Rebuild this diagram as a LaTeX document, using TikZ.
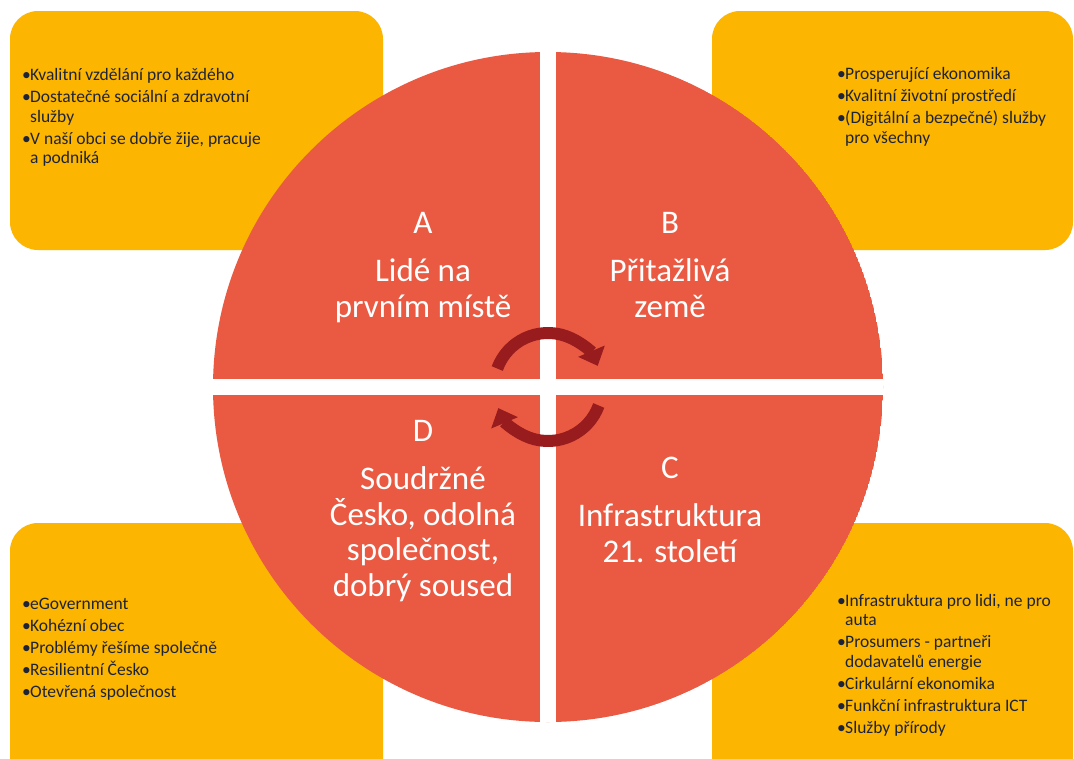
\documentclass[tikz,border=0pt]{standalone}
\usepackage{fontspec}
\setmainfont{Carlito}
\usepackage{tikz}
\usetikzlibrary{arrows.meta}

\definecolor{quadred}{HTML}{EA5A42}
\definecolor{boxgold}{HTML}{FCB501}
\definecolor{cyclered}{HTML}{981B1E}
\definecolor{notetext}{HTML}{1E2438}
\newcommand{\bul}{\makebox[8pt][l]{\textbullet}}
\newcommand{\cont}{\hspace*{8pt}}

\begin{document}
\begin{tikzpicture}[x=1pt, y=-1pt,
    note/.style={anchor=base west, align=left, inner sep=0pt, text=notetext,
      font=\fontsize{17.5}{19.5}\selectfont},
    pillar/.style={anchor=base, align=center, inner sep=0pt, text=white,
      font=\fontsize{33}{35.5}\selectfont}]
    \clip (0,0) rectangle (1074,758);
    \fill[white] (0,0) rectangle (1074,758);

    % Draw corner boxes
    \foreach \x/\y/\w/\h in {10/11/373/239, 712/11/361/239, 10/523/373/270, 712/523/361/270} {
      \fill[boxgold, rounded corners=28pt] (\x,\y) rectangle ++(\w,\h);
    }

    % Draw circle split in four
    \coordinate (hub) at (548,387);
    \begin{scope}
      \clip (hub) circle (335pt);
      \fill[quadred] (hub) circle (335pt);
      \fill[white] (540,0) rectangle (556,758);
      \fill[white] (0,379) rectangle (1074,395);
    \end{scope}

    % Cycle arrows in the middle
    \draw[cyclered, line width=12pt, -{Triangle[width=28pt,length=16pt]}]
      ([shift={(160:54pt)}]hub) arc[start angle=160, end angle=23, radius=54pt];
    \draw[cyclered, line width=12pt, -{Triangle[width=28pt,length=16pt]}]
      ([shift={(-20:54pt)}]hub) arc[start angle=-20, end angle=-157, radius=54pt];

    % Quadrant titles (placed by their last line)
    \node[pillar] (pillarA) at (423,317) {A\\[13pt]Lidé na\\prvním místě};
    \node[pillar] (pillarB) at (670,317) {B\\[13pt]Přitažlivá\\země};
    \node[pillar] (pillarC) at (670,562) {C\\[13pt]Infrastruktura\\21. století};
    \node[pillar] (pillarD) at (423,596) {D\\[13pt]Soudržné\\Česko, odolná\\společnost,\\dobrý soused};

    % Notes in the boxes (placed by their last line)
    \node[note] (notesA) at (22,163.5) {\bul Kvalitní vzdělání pro každého\\[2.5pt]
      \bul Dostatečné sociální a zdravotní\\\cont služby\\[2.5pt]
      \bul V naší obci se dobře žije, pracuje\\\cont a podniká};
    \node[note] (notesB) at (837,143) {\bul Prosperující ekonomika\\[2.5pt]
      \bul Kvalitní životní prostředí\\[2.5pt]
      \bul (Digitální a bezpečné) služby\\\cont pro všechny};
    \node[note] (notesD) at (22,697) {\bul eGovernment\\[2.5pt]
      \bul Kohézní obec\\[2.5pt]
      \bul Problémy řešíme společně\\[2.5pt]
      \bul Resilientní Česko\\[2.5pt]
      \bul Otevřená společnost};
    \node[note] (notesC) at (837,733) {\bul Infrastruktura pro lidi, ne pro\\\cont auta\\[2.5pt]
      \bul Prosumers - partneři\\\cont dodavatelů energie\\[2.5pt]
      \bul Cirkulární ekonomika\\[2.5pt]
      \bul Funkční infrastruktura ICT\\[2.5pt]
      \bul Služby přírody};
\end{tikzpicture}
\end{document}
